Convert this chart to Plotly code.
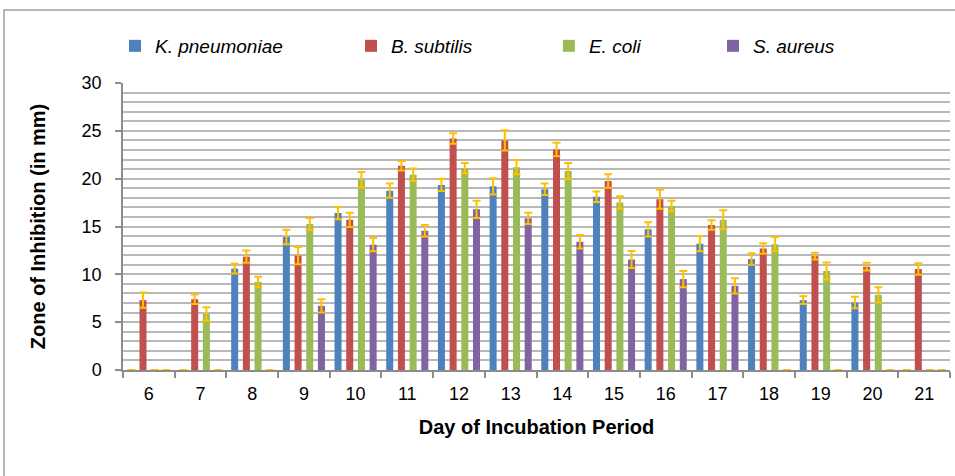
import plotly.graph_objects as go

days = ["6", "7", "8", "9", "10", "11", "12", "13", "14", "15", "16", "17", "18", "19", "20", "21"]

k_pneumoniae = [0, 0, 10.6, 13.9, 16.4, 18.75, 19.35, 19.2, 18.9, 18.1, 14.7, 13.2, 11.6, 7.3, 7.05, 0]
k_pneumoniae_err = [0, 0, 0.5, 0.75, 0.65, 0.75, 0.65, 0.85, 0.6, 0.55, 0.75, 0.8, 0.6, 0.4, 0.6, 0]

b_subtilis = [7.3, 7.4, 11.85, 11.95, 15.7, 21.35, 24.2, 24.0, 23.05, 19.75, 17.85, 15.15, 12.7, 11.9, 10.8, 10.55]
b_subtilis_err = [0.8, 0.5, 0.65, 0.9, 0.75, 0.5, 0.55, 1.05, 0.7, 0.7, 1.0, 0.5, 0.55, 0.35, 0.4, 0.6]

e_coli = [0, 5.85, 9.2, 15.25, 19.9, 20.4, 21.1, 21.2, 20.8, 17.5, 17.15, 15.7, 13.15, 10.35, 7.85, 0]
e_coli_err = [0, 0.7, 0.55, 0.65, 0.8, 0.65, 0.55, 0.75, 0.85, 0.65, 0.55, 1.0, 0.75, 0.9, 0.8, 0]

s_aureus = [0, 0, 0, 6.7, 13.1, 14.55, 16.8, 15.85, 13.4, 11.55, 9.5, 8.8, 0, 0, 0, 0]
s_aureus_err = [0, 0, 0, 0.7, 0.7, 0.6, 0.9, 0.6, 0.7, 0.9, 0.85, 0.8, 0, 0, 0, 0]

series = [
    ("<i>K. pneumoniae</i>", k_pneumoniae, k_pneumoniae_err, "#4F81BD", "legend"),
    ("<i>B. subtilis</i>", b_subtilis, b_subtilis_err, "#C0504D", "legend2"),
    ("<i>E. coli</i>", e_coli, e_coli_err, "#9BBB59", "legend3"),
    ("<i>S. aureus</i>", s_aureus, s_aureus_err, "#8064A2", "legend4"),
]

FONT = "Liberation Sans, Arial, sans-serif"

fig = go.Figure()
for name, vals, errs, color, leg in series:
    fig.add_trace(go.Bar(
        x=days, y=vals, name=name, marker=dict(color=color, line=dict(width=0)),
        error_y=dict(type="data", array=errs, visible=True, color="#FFC000", thickness=2, width=4),
        legend=leg, showlegend=True,
    ))

leg_common = dict(orientation="h", yanchor="middle", y=1.129, xanchor="left",
                  font=dict(family=FONT, size=19, color="#000000"),
                  bgcolor="rgba(0,0,0,0)", borderwidth=0, visible=True)

fig.update_layout(
    width=955, height=476,
    margin=dict(l=123, r=5, t=83, b=106, autoexpand=False),
    paper_bgcolor="white", plot_bgcolor="white",
    showlegend=True,
    barmode="group", bargap=0.095, bargroupgap=0.4,
    font=dict(family=FONT, size=18, color="#000000"),
    legend=dict(leg_common, x=-0.0097),
    legend2=dict(leg_common, x=0.2757),
    legend3=dict(leg_common, x=0.515),
    legend4=dict(leg_common, x=0.7134),
    xaxis=dict(
        type="category", showline=True, linecolor="#8c8c8c", linewidth=1.5,
        ticks="outside", tickson="boundaries", ticklen=6, tickcolor="#8c8c8c", tickwidth=1.5,
        showgrid=False, tickfont=dict(size=18), ticklabelstandoff=7,
        title=dict(text="<b>Day of Incubation Period</b>", font=dict(size=20), standoff=17),
    ),
    yaxis=dict(
        range=[0, 30], dtick=5, showline=True, linecolor="#8c8c8c", linewidth=1.5,
        ticks="outside", ticklen=6, tickcolor="#8c8c8c", tickwidth=1.5,
        showgrid=True, gridcolor="#b8b8b8", gridwidth=1.5,
        minor=dict(dtick=1, showgrid=True, gridcolor="#b8b8b8", gridwidth=1.5),
        zeroline=False, tickfont=dict(size=18), ticklabelstandoff=10,
        title=dict(text="<b>Zone of Inhibition (in mm)</b>", font=dict(size=20), standoff=31),
    ),
    shapes=[dict(type="rect", xref="paper", yref="paper",
                 x0=-0.1439, x1=1.012, y0=-0.39, y1=1.254,
                 line=dict(color="#a0a0a0", width=1.5), fillcolor="rgba(0,0,0,0)", layer="below")],
)

fig.write_html("out.html")
